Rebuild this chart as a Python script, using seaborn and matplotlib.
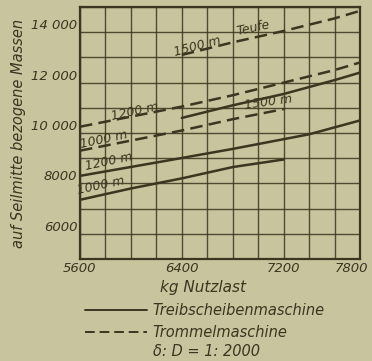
import matplotlib
matplotlib.use("Agg")
import matplotlib.pyplot as plt
import matplotlib.transforms as mtransforms
from matplotlib.lines import Line2D
import seaborn as sns
import pandas as pd

# Werte (kg Nutzlast -> auf Seilmitte bezogene Massen)
treib_1000_x = [5600, 6000, 6400, 6800, 7200]
treib_1000_y = [7350, 7800, 8200, 8650, 8950]
treib_1200_x = [5600, 6200, 6800, 7400, 7800]
treib_1200_y = [8300, 8830, 9370, 9950, 10500]
treib_1500_x = [6400, 6800, 7200, 7600, 7800]
treib_1500_y = [10600, 11100, 11550, 12100, 12400]

trommel_1000_x = [5600, 6000, 6400, 6800, 7200]
trommel_1000_y = [9300, 9700, 10100, 10550, 10950]
trommel_1200_x = [5600, 6000, 6400, 6800, 7200, 7600, 7800]
trommel_1200_y = [10250, 10650, 11050, 11500, 12000, 12500, 12800]
trommel_1500_x = [6400, 6800, 7200, 7600, 7800]
trommel_1500_y = [13100, 13600, 14050, 14550, 14850]

x_ticks = [5600, 6400, 7200, 7800]
x_ticklabels = ["5600", "6400", "7200", "7800"]
y_ticks = list(range(5000, 15001, 1000))
y_ticklabels = ["", "6000", "", "8000", "", "10 000", "", "12 000", "", "14 000", ""]

# Kurvenbeschriftungen (Text, x, y, Winkel)
labels = [
    ("1000 m", 5760, 7900, 12),
    ("1200 m", 5830, 8880, 12),
    ("1000 m", 5790, 9760, 12),
    ("1200 m", 6030, 10850, 12),
    ("1500 m", 7080, 11230, 8),
    ("1500 m", 6520, 13420, 15),
    ("Teufe", 6960, 14180, 12),
]

bg = "#c8c49e"
ink = "#3a3620"

sns.set_theme(style="white")
plt.rcParams["font.family"] = ["Liberation Sans Narrow", "DejaVu Sans"]
plt.rcParams["font.style"] = "italic"

fig = plt.figure(figsize=(3.72, 3.61), dpi=100, facecolor=bg)
ax = fig.add_axes([0.215, 0.2825, 0.753, 0.698])
ax.set_facecolor(bg)

series = [
    (treib_1000_x, treib_1000_y, "solid"),
    (treib_1200_x, treib_1200_y, "solid"),
    (treib_1500_x, treib_1500_y, "solid"),
    (trommel_1000_x, trommel_1000_y, "dashed"),
    (trommel_1200_x, trommel_1200_y, "dashed"),
    (trommel_1500_x, trommel_1500_y, "dashed"),
]
for xs, ys, ls in series:
    d = pd.DataFrame({"x": xs, "y": ys})
    sns.lineplot(data=d, x="x", y="y", ax=ax, color=ink, linewidth=1.8)
    if ls == "dashed":
        ax.lines[-1].set_dashes((5, 2.5))

ax.set_xlim(5600, 7800)
ax.set_ylim(5000, 15000)
grid_x = list(range(5600, 7801, 200))
ax.set_xticks(grid_x)
ax.set_xticklabels(["" if v not in x_ticks else x_ticklabels[x_ticks.index(v)]
                    for v in grid_x])
ax.set_yticks(y_ticks)
ax.set_yticklabels(y_ticklabels)
ax.grid(True, color=ink, linewidth=1.0, alpha=0.85)
ax.tick_params(length=0, pad=2, labelsize=9.5, colors=ink)
for lab in ax.get_yticklabels():
    lab.set_verticalalignment("bottom")
# letzte x-Beschriftung etwas nach links, damit sie im Bild bleibt
shift = mtransforms.ScaledTranslation(-9 / 100, 0, fig.dpi_scale_trans)
last = ax.get_xticklabels()[-1]
last.set_transform(last.get_transform() + shift)
for s in ax.spines.values():
    s.set_color(ink)
    s.set_linewidth(1.6)

ax.set_xlabel("kg Nutzlast", fontsize=11, color=ink, labelpad=0)
ax.xaxis.set_label_coords(0.44, -0.085)
ax.set_ylabel("auf Seilmitte bezogene Massen", fontsize=10.5, color=ink, labelpad=4)

for txt, x, y, rot in labels:
    ax.text(x, y, txt, fontsize=9, color=ink, rotation=rot,
            ha="center", va="center")

# Legende unter dem Diagramm
fig.add_artist(Line2D([0.228, 0.395], [0.14, 0.14], color=ink, linewidth=1.4))
fig.add_artist(Line2D([0.228, 0.395], [0.08, 0.08], color=ink, linewidth=1.4,
                      dashes=(5, 2.5)))
fig.text(0.41, 0.14, "Treibscheibenmaschine", fontsize=10.5, color=ink, va="center")
fig.text(0.41, 0.08, "Trommelmaschine", fontsize=10.5, color=ink, va="center")
fig.text(0.41, 0.025, "δ: D = 1: 2000", fontsize=10.5, color=ink, va="center")

fig.savefig("out.png", dpi=100, facecolor=bg)
